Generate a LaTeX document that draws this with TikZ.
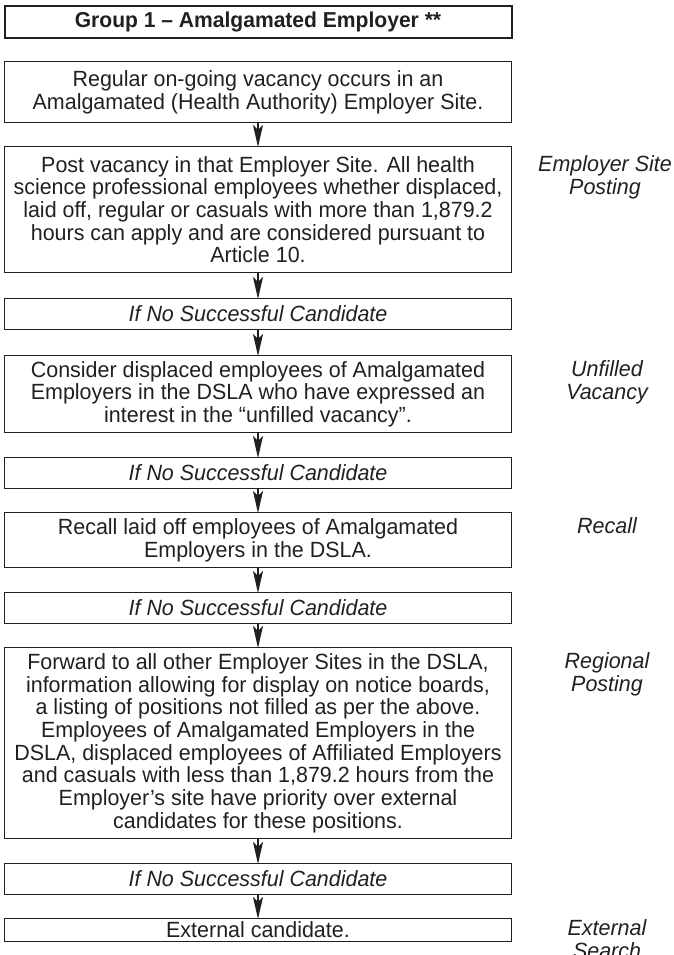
\documentclass[tikz,border=0pt]{standalone}
\usepackage{fontspec}
\setmainfont{Liberation Sans}[FakeStretch=0.975]
\usetikzlibrary{arrows.meta}
\definecolor{ink}{HTML}{231F20}
\begin{document}
\begin{tikzpicture}[x=1pt,y=-1pt,
  txt/.style={text=ink, font=\fontsize{22}{22.7}\selectfont},
  box/.style={txt, draw=ink, line width=1.2pt, minimum width=507pt, align=center, inner sep=0pt, anchor=north},
  headbox/.style={box, line width=2pt, font=\fontsize{21.6}{22.7}\selectfont\bfseries},
  nobox/.style={box, minimum height=31pt, font=\fontsize{22}{22.7}\selectfont\itshape},
  side/.style={txt, align=center, font=\fontsize{22}{22.7}\selectfont\itshape},
  arr/.style={draw=ink, line width=1.4pt, -{Stealth[length=22pt,width=10pt,inset=5pt]}, shorten >=-1pt}]
\useasboundingbox (0,0) rectangle (674,955);
\node[headbox, minimum height=32pt] (head) at (258,5) {Group 1 -- Amalgamated Employer **};
\node[box, minimum height=61pt] (a) at (258,61) {Regular on-going vacancy occurs in an\\Amalgamated (Health Authority) Employer Site.};
\node[box, minimum height=126pt] (b) at (258,146) {Post vacancy in that Employer Site. All health\\science professional employees whether displaced,\\laid off, regular or casuals with more than 1,879.2\\hours can apply and are considered pursuant to\\Article 10.};
\node[nobox] (n1) at (258,298) {If No Successful Candidate};
\node[box, minimum height=77pt] (c) at (258,355) {Consider displaced employees of Amalgamated\\Employers in the DSLA who have expressed an\\interest in the “unfilled vacancy”.};
\node[nobox] (n2) at (258,457) {If No Successful Candidate};
\node[box, minimum height=55pt] (d) at (258,512) {Recall laid off employees of Amalgamated\\Employers in the DSLA.};
\node[nobox] (n3) at (258,592) {If No Successful Candidate};
\node[box, minimum height=191pt] (e) at (258,647) {Forward to all other Employer Sites in the DSLA,\\information allowing for display on notice boards,\\a listing of positions not filled as per the above.\\Employees of Amalgamated Employers in the\\DSLA, displaced employees of Affiliated Employers\\and casuals with less than 1,879.2 hours from the\\Employer’s site have priority over external\\candidates for these positions.};
\node[nobox] (n4) at (258,863) {If No Successful Candidate};
\node[box, minimum height=23pt] (f) at (258,918) {External candidate.};
\draw[arr] (a.south) -- (b.north);
\draw[arr] (b.south) -- (n1.north);
\draw[arr] (n1.south) -- (c.north);
\draw[arr] (c.south) -- (n2.north);
\draw[arr] (n2.south) -- (d.north);
\draw[arr] (d.south) -- (n3.north);
\draw[arr] (n3.south) -- (e.north);
\draw[arr] (e.south) -- (n4.north);
\draw[arr] (n4.south) -- (f.north);
\node[side] (l1) at (605,177.3) {Employer Site\\Posting};
\node[side] (l2) at (607,382.2) {Unfilled\\Vacancy};
\node[side, anchor=base] (l3) at (607,533.9) {Recall};
\node[side] (l4) at (607,674.4) {Regional\\Posting};
\node[side] (l5) at (607,939) {External\\Search};
\end{tikzpicture}
\end{document}
